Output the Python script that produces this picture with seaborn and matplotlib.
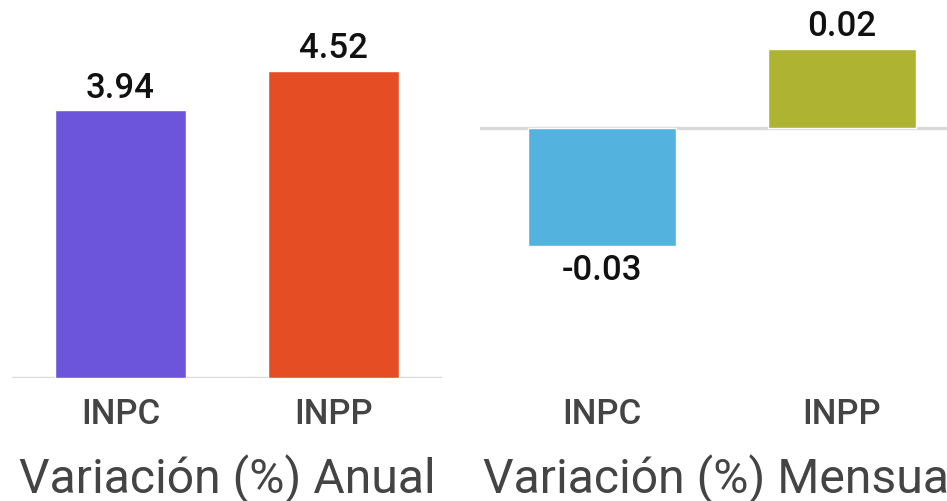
import matplotlib
matplotlib.use("Agg")
import matplotlib.pyplot as plt
import seaborn as sns
from matplotlib import font_manager

categories = ["INPC", "INPP"]
annual_values = [3.94, 4.52]
monthly_values = [-0.03, 0.02]
annual_colors = ["#6C55DA", "#E54E25"]
monthly_colors = ["#53B3DE", "#AFB332"]
titles = ["Variación (%) Anual", "Variación (%) Mensual"]

sns.set_theme(style="white")
plt.rcParams["font.family"] = ["Roboto", "DejaVu Sans"]

# pick Roboto Medium if installed
has_medium = any(("Roboto" in f.name and f.weight in (500, "medium")) for f in font_manager.fontManager.ttflist)
label_weight = 500 if has_medium else "bold"

W, H = 947, 502
fig = plt.figure(figsize=(W / 100, H / 100), dpi=100)

def px_axes(x0, x1, ytop, ybot):
    return fig.add_axes([x0 / W, 1 - ybot / H, (x1 - x0) / W, (ybot - ytop) / H])

ax1 = px_axes(12, 442, 20, 379)
ax2 = px_axes(480, 964, 20, 379)

panels = [
    (ax1, annual_values, annual_colors, (0, 359 / 67.9), titles[0]),
    (ax2, monthly_values, monthly_colors, (-250 / 3930, 109 / 3930), titles[1]),
]

for ax, vals, cols, ylim, title in panels:
    sns.barplot(x=categories, y=vals, hue=categories, palette=cols, width=0.615,
                legend=False, ax=ax, saturation=1)
    ax.set_xlim(-0.509, 1.509)
    ax.set_ylim(*ylim)
    ax.axhline(0, color="#d9d9d9", lw=2.4, zorder=0.5)
    for c in ax.containers:
        ax.bar_label(c, labels=[f"{v:.2f}" for v in c.datavalues], padding=5,
                     fontsize=25, fontweight=label_weight, color="#111111")
    for s in ax.spines.values():
        s.set_visible(False)
    ax.set_yticks([])
    ax.set_ylabel("")
    ax.tick_params(axis="x", length=0, pad=14)
    for t in ax.get_xticklabels():
        t.set_fontsize(25)
        t.set_fontweight(label_weight)
        t.set_color("#444444")
    ax.set_xlabel(title, fontsize=34.7, color="#444444", labelpad=16)
    ax.patch.set_alpha(0)

fig.savefig("out.png", dpi=100)
